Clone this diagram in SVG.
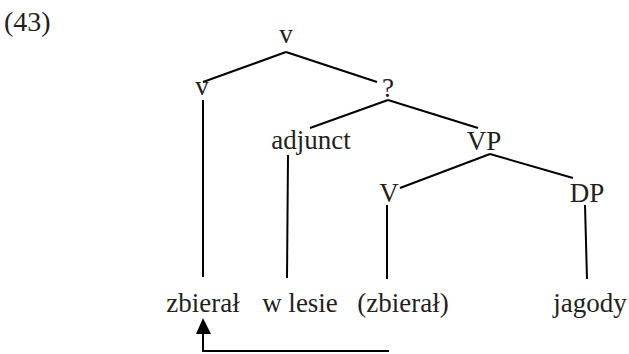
<svg xmlns="http://www.w3.org/2000/svg" width="629" height="354" viewBox="0 0 629 354">
  <defs>
    <style>
      text { font-family: "Liberation Serif", "Times New Roman", serif; font-size: 27px; fill: #231f20; text-anchor: middle; }
      .edge { stroke: #000; stroke-width: 2; fill: none; }
    </style>
  </defs>
  <rect width="629" height="354" fill="#fff"/>
  <text x="4" y="31" style="text-anchor:start;font-size:28px">(43)</text>

  <g id="connectors">
    <line class="edge" x1="286" y1="52" x2="203" y2="82"/>
    <line class="edge" x1="286" y1="52" x2="377" y2="82"/>
    <line class="edge" x1="203" y1="100" x2="203" y2="277"/>
    <line class="edge" x1="388" y1="100" x2="310" y2="128"/>
    <line class="edge" x1="388" y1="100" x2="478" y2="128"/>
    <line class="edge" x1="288" y1="155" x2="287" y2="278"/>
    <line class="edge" x1="490" y1="154" x2="400" y2="188"/>
    <line class="edge" x1="490" y1="154" x2="573" y2="178"/>
    <line class="edge" x1="387" y1="205" x2="387" y2="279"/>
    <line class="edge" x1="585" y1="205" x2="587" y2="279"/>
    <!-- movement arrow -->
    <polyline class="edge" points="389,351 203,351 203,332"/>
    <polygon points="203,318 196,334 211,334" fill="#000"/>
  </g>

  <g id="node-v-top"><text x="286" y="43">v</text></g>
  <g id="node-v"><text x="202" y="95">v</text></g>
  <g id="node-q"><text x="388" y="97">?</text></g>
  <g id="node-adjunct"><text x="311" y="149">adjunct</text></g>
  <g id="node-VP"><text x="484" y="150">VP</text></g>
  <g id="node-V"><text x="389" y="202">V</text></g>
  <g id="node-DP"><text x="587" y="202">DP</text></g>
  <g id="leaf-zbieral"><text x="203" y="312">zbierał</text></g>
  <g id="leaf-wlesie"><text x="300" y="312">w lesie</text></g>
  <g id="leaf-zbieral-copy"><text x="403" y="312">(zbierał)</text></g>
  <g id="leaf-jagody"><text x="590" y="312">jagody</text></g>
</svg>
